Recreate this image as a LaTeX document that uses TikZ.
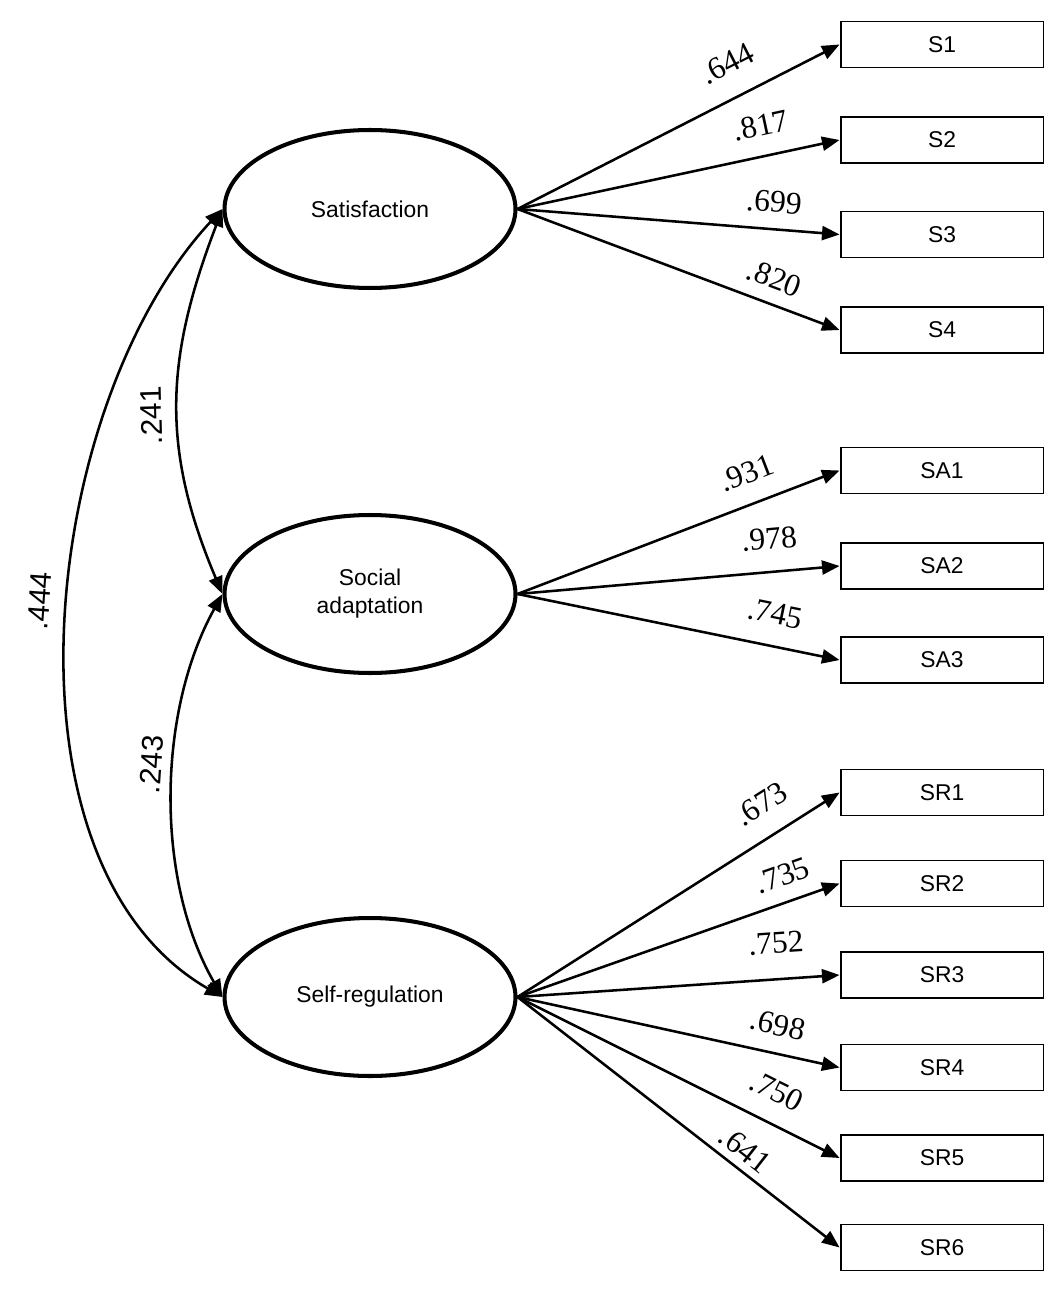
\documentclass[tikz,border=0pt]{standalone}
\usepackage{fontspec}
\setmainfont{Liberation Serif}
\setsansfont{Liberation Sans}
\usetikzlibrary{arrows.meta,shapes.geometric}

\tikzset{
  semhead/.tip={Triangle[length=10pt,width=8pt]},
  latent/.style={draw, ellipse, line width=2.3pt, minimum width=5.82cm, minimum height=3.16cm, inner sep=0pt, align=center, font=\sffamily\fontsize{13}{16}\selectfont},
  item/.style={draw, rectangle, line width=1.1pt, minimum width=4.06cm, minimum height=0.92cm, inner sep=0pt, font=\sffamily\fontsize{13}{16}\selectfont},
  load/.style={-semhead, line width=1.45pt},
  cov/.style={semhead-semhead, line width=1.45pt},
  wt/.style={sloped, inner sep=0pt, above=#1, font=\fontsize{18}{18}\selectfont},
  wt/.default=11pt,
  cw/.style={sloped, allow upside down, inner sep=0pt, above=#1, font=\sffamily\fontsize{17}{17}\selectfont},
}

\begin{document}
\begin{tikzpicture}[x=0.02cm, y=0.02cm]
\useasboundingbox (0,0) rectangle (1063,-1290);
% latent factors
\node[latent] (sat) at (370,-209) {Satisfaction};
\node[latent] (soc) at (370,-594) {Social\\adaptation};
\node[latent] (self) at (370,-997) {Self-regulation};
% indicators
\node[item] (s1) at (942,-44.5) {S1};
\node[item] (s2) at (942,-140) {S2};
\node[item] (s3) at (942,-234.5) {S3};
\node[item] (s4) at (942,-330) {S4};
\node[item] (sa1) at (942,-470.5) {SA1};
\node[item] (sa2) at (942,-566) {SA2};
\node[item] (sa3) at (942,-660) {SA3};
\node[item] (sr1) at (942,-792.5) {SR1};
\node[item] (sr2) at (942,-883.5) {SR2};
\node[item] (sr3) at (942,-975) {SR3};
\node[item] (sr4) at (942,-1067.5) {SR4};
\node[item] (sr5) at (942,-1158) {SR5};
\node[item] (sr6) at (942,-1247.5) {SR6};
% loadings
\draw[load] (sat.east) -- node[wt=12.4pt, pos=.70] {.644} (s1.west);
\draw[load] (sat.east) -- node[wt=10.5pt, pos=.775] {.817} (s2.west);
\draw[load] (sat.east) -- node[wt=8.7pt, pos=.79] {.699} (s3.west);
\draw[load] (sat.east) -- node[wt=7.7pt, pos=.77] {.820} (s4.west);
\draw[load] (soc.east) -- node[wt=10.8pt, pos=.745] {.931} (sa1.west);
\draw[load] (soc.east) -- node[wt=12pt, pos=.79] {.978} (sa2.west);
\draw[load] (soc.east) -- node[wt=11.7pt, pos=.78] {.745} (sa3.west);
\draw[load] (self.east) -- node[wt=11.7pt, pos=.81] {.673} (sr1.west);
\draw[load] (self.east) -- node[wt=8.4pt, pos=.85] {.735} (sr2.west);
\draw[load] (self.east) -- node[wt=13.7pt, pos=.81] {.752} (sr3.west);
\draw[load] (self.east) -- node[wt=9.4pt, pos=.79] {.698} (sr4.west);
\draw[load] (self.east) -- node[wt=11.1pt, pos=.76] {.750} (sr5.west);
\draw[load] (self.east) -- node[wt=4pt, pos=.67] {.641} (sr6.west);
% covariances
\draw[cov] (soc.west) to[out=113, in=249, looseness=1.06] node[cw=8.5pt, pos=.465] {.241} (sat.west);
\draw[cov] (self.west) to[out=120, in=241, looseness=.86] node[cw=5.9pt, pos=.57] {.243} (soc.west);
\draw[cov] (self.west) to[out=150, in=227, looseness=.87] node[cw=9.9pt, pos=.525] {.444} (sat.west);
\end{tikzpicture}
\end{document}
